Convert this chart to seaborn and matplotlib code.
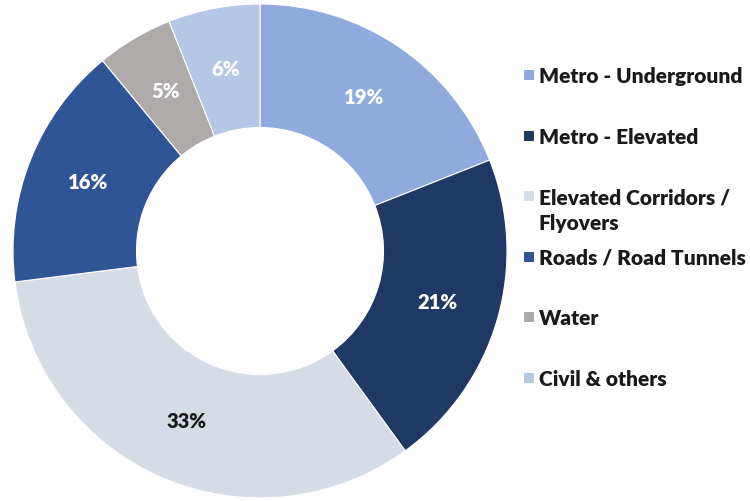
import matplotlib
matplotlib.use("Agg")
import matplotlib.pyplot as plt
from matplotlib.patches import Rectangle
import seaborn as sns

# Project mix by segment (share of order book, %)
categories = ["Metro - Underground", "Metro - Elevated", "Elevated Corridors /\nFlyovers",
              "Roads / Road Tunnels", "Water", "Civil & others"]
shares = [19, 21, 33, 16, 5, 6]
colors = ["#8faadc", "#203864", "#d6dce5", "#2f5597", "#aeaaaa", "#b4c7e7"]
label_colors = ["white", "white", "#1a1a1a", "white", "white", "white"]

sns.set_theme(style="white")
plt.rcParams["font.family"] = ["Lato", "DejaVu Sans"]
palette = sns.color_palette(colors)

fig = plt.figure(figsize=(7.5, 5.01), dpi=100)
ax = fig.add_axes([13 / 750, 3 / 501, 494 / 750, 494 / 501])

wedges, texts, autotexts = ax.pie(
    shares,
    colors=palette,
    startangle=90,
    counterclock=False,
    radius=1.0,
    autopct="%d%%",
    pctdistance=0.75,
    wedgeprops=dict(width=0.5, edgecolor="white", linewidth=0.8),
    textprops=dict(fontsize=14.5, fontweight="heavy"),
)
for t, c in zip(autotexts, label_colors):
    t.set_color(c)
ax.set_xlim(-1, 1)
ax.set_ylim(-1, 1)
ax.set_aspect("equal")
ax.axis("off")

# Legend drawn as squares with labels down the right side
W, H = 750, 501
for i, (name, col) in enumerate(zip(categories, palette)):
    yc = 75 + i * 60.6
    fig.patches.append(Rectangle((524 / W, 1 - (yc + 5) / H), 10 / W, 10 / H,
                                 transform=fig.transFigure, facecolor=col,
                                 edgecolor="none"))
    fig.text(539 / W, 1 - (yc - 8) / H, name, fontsize=15, fontweight="heavy",
             color="#1a1a1a", va="top", ha="left", linespacing=1.4)

fig.savefig("out.png", dpi=100, facecolor="white")
